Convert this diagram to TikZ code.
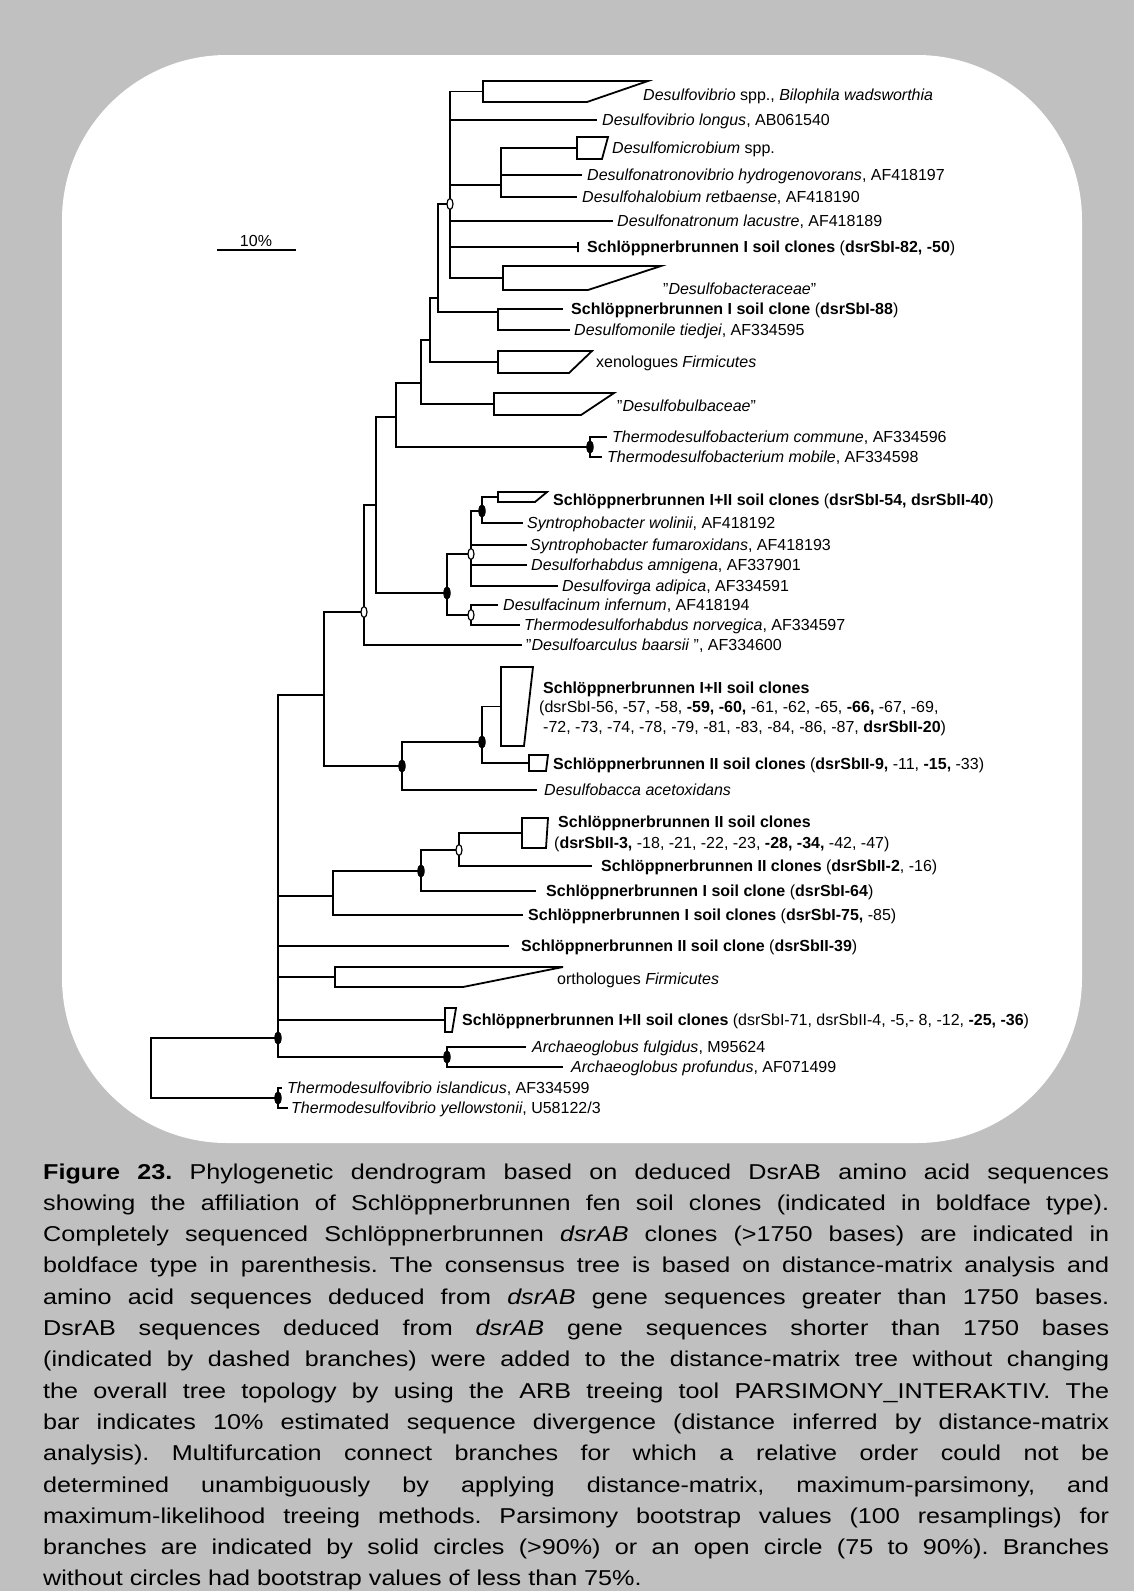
\documentclass[tikz,border=0pt]{standalone}
\usepackage{fontspec}
\setmainfont{Liberation Sans}
\newfontfamily\capfont{Liberation Sans}[FakeStretch=1.17]
\usetikzlibrary{shapes.geometric}
\definecolor{pagegray}{HTML}{C0C0C0}

% leaf: name, tip x, y, label x, label text
\newcommand\tipleaf[5]{%
  \coordinate (#1) at (#2,#3);
  \node[lab] (#1-l) at (#4,#3) {#5};}
% collapsed clade drawn as a trapezoid: name, x, top y, bottom y, top right x, bottom right x
\newcommand\cladebox[6]{%
  \draw[box] (#2,#3) -- (#5,#3) -- (#6,#4) -- (#2,#4) -- cycle;
  \coordinate (#1) at (#2,{(#3+#4)/2});}

\begin{document}
\begin{tikzpicture}[x=1pt,y=-1pt,
  br/.style={line width=1.8pt},
  box/.style={line width=1.8pt, line join=miter},
  lab/.style={anchor=west, inner sep=0pt, text height=11.5pt, text depth=0pt,
              font=\fontsize{16}{19}\selectfont},
  bsfull/.style={ellipse, draw=black, fill=black, line width=0.8pt, inner sep=0pt,
                 minimum width=6.5pt, minimum height=12.5pt},
  bsopen/.style={ellipse, draw=black, fill=white, line width=1.2pt, inner sep=0pt,
                 minimum width=6pt, minimum height=11pt}]

% page and rounded panel
\fill[pagegray] (0,0) rectangle (1134,1591);
\fill[white, rounded corners=165pt] (62,55) rectangle (1082,1143);
\useasboundingbox (0,0) rectangle (1134,1591);

% scale bar
\coordinate (sbL) at (217,250);
\coordinate (sbR) at (296,250);
\draw[line width=1.5pt] (sbL) -- (sbR);
\node[lab, anchor=center] (sbT) at (256,241) {10\%};

% internal nodes
\coordinate (nR) at (151,1067);
\coordinate (nM) at (278,1038);
\coordinate (nTv) at (278,1098);
\coordinate (nArc) at (447,1057);
\coordinate (nN) at (333,896);
\coordinate (nN1) at (421,871);
\coordinate (nN2) at (459,850);
\coordinate (nA) at (324,695);
\coordinate (nG) at (402,766);
\coordinate (nG1) at (482,742);
\coordinate (nB) at (364,612);
\coordinate (nC) at (376,505);
\coordinate (nE) at (396,417);
\coordinate (nTb) at (590,447);
\coordinate (nF) at (421,383);
\coordinate (nH) at (430,340);
\coordinate (nK) at (438,298);
\coordinate (nDM) at (498,312);
\coordinate (nT) at (450,204);
\coordinate (nDm) at (501,185);
\coordinate (nS) at (447,593);
\coordinate (nS1) at (471,554);
\coordinate (nS2) at (482,511);
\coordinate (nS3) at (471,615);

% collapsed clades
\cladebox{kDv}{483}{81}{102}{648}{587}
\cladebox{kDmic}{577}{137}{159}{608}{602}
\cladebox{k82}{578}{242}{252}{578}{578}
\cladebox{kBact}{503}{266}{290}{661}{588}
\cladebox{kXeno}{498}{351}{373}{592}{569}
\cladebox{kBulb}{494}{393}{415}{614}{581}
\cladebox{k54}{498}{492}{502}{547}{535}
\cladebox{kBig}{501}{667}{746}{533}{524}
\cladebox{kII9}{529}{755}{771}{548}{546}
\cladebox{kII3}{522}{818}{848}{548}{546}
\cladebox{kOrtho}{335}{967}{987}{563}{463}
\cladebox{k71}{445}{1008}{1032}{456}{452}

% clade labels
\node[lab] (kDv-l) at (643,95) {\textit{Desulfovibrio} spp., \textit{Bilophila wadsworthia}};
\node[lab] (kDmic-l) at (612,148) {\textit{Desulfomicrobium} spp.};
\node[lab] (k82-l) at (587,247) {\textbf{Schlöppnerbrunnen I soil clones} (\textbf{dsrSbI-82, -50})};
\node[lab] (kBact-l) at (663,289) {"\textit{Desulfobacteraceae}"};
\node[lab] (kXeno-l) at (596,362) {xenologues \textit{Firmicutes}};
\node[lab] (kBulb-l) at (617,406) {"\textit{Desulfobulbaceae}"};
\node[lab] (k54-l) at (553,500) {\textbf{Schlöppnerbrunnen I+II soil clones} (\textbf{dsrSbI-54, dsrSbII-40})};
\node[lab] (kBig-l1) at (543,688) {\textbf{Schlöppnerbrunnen I+II soil clones}};
\node[lab] (kBig-l2) at (539,707) {(dsrSbI-56, -57, -58, \textbf{-59, -60,} -61, -62, -65, \textbf{-66,} -67, -69,};
\node[lab] (kBig-l3) at (543,727) {-72, -73, -74, -78, -79, -81, -83, -84, -86, -87, \textbf{dsrSbII-20})};
\node[lab] (kII9-l) at (553,764) {\textbf{Schlöppnerbrunnen II soil clones} (\textbf{dsrSbII-9,} -11, \textbf{-15,} -33)};
\node[lab] (kII3-l1) at (558,822) {\textbf{Schlöppnerbrunnen II soil clones}};
\node[lab] (kII3-l2) at (554,843) {(\textbf{dsrSbII-3,} -18, -21, -22, -23, \textbf{-28, -34,} -42, -47)};
\node[lab] (kOrtho-l) at (557,979) {orthologues \textit{Firmicutes}};
\node[lab] (k71-l) at (462,1020) {\textbf{Schlöppnerbrunnen I+II soil clones} (dsrSbI-71, dsrSbII-4, -5,- 8, -12, \textbf{-25, -36})};

% single sequences
\tipleaf{tLon}{597}{120}{602}{\textit{Desulfovibrio longus}, AB061540}
\tipleaf{tNatro}{582}{175}{587}{\textit{Desulfonatronovibrio hydrogenovorans}, AF418197}
\tipleaf{tHalo}{577}{197}{582}{\textit{Desulfohalobium retbaense}, AF418190}
\tipleaf{tLac}{613}{221}{617}{\textit{Desulfonatronum lacustre}, AF418189}
\tipleaf{t88}{563}{309}{571}{\textbf{Schlöppnerbrunnen I soil clone} (\textbf{dsrSbI-88})}
\tipleaf{tMon}{570}{330}{574}{\textit{Desulfomonile tiedjei}, AF334595}
\tipleaf{tCom}{607}{437}{612}{\textit{Thermodesulfobacterium commune}, AF334596}
\tipleaf{tMob}{602}{457}{607}{\textit{Thermodesulfobacterium mobile}, AF334598}
\tipleaf{tWol}{523}{523}{527}{\textit{Syntrophobacter wolinii}, AF418192}
\tipleaf{tFum}{527}{545}{530}{\textit{Syntrophobacter fumaroxidans}, AF418193}
\tipleaf{tAmn}{527}{565}{531}{\textit{Desulforhabdus amnigena}, AF337901}
\tipleaf{tAdi}{558}{586}{562}{\textit{Desulfovirga adipica}, AF334591}
\tipleaf{tInf}{498}{605}{503}{\textit{Desulfacinum infernum}, AF418194}
\tipleaf{tNor}{520}{625}{524}{\textit{Thermodesulforhabdus norvegica}, AF334597}
\tipleaf{tBaar}{522}{645}{526}{"\textit{Desulfoarculus baarsii} ", AF334600}
\tipleaf{tBacca}{537}{790}{544}{\textit{Desulfobacca acetoxidans}}
\tipleaf{tII2}{592}{866}{601}{\textbf{Schlöppnerbrunnen II clones} (\textbf{dsrSbII-2}, -16)}
\tipleaf{t64}{536}{891}{546}{\textbf{Schlöppnerbrunnen I soil clone} (\textbf{dsrSbI-64})}
\tipleaf{t75}{523}{915}{528}{\textbf{Schlöppnerbrunnen I soil clones} (\textbf{dsrSbI-75,} -85)}
\tipleaf{t39}{509}{946}{521}{\textbf{Schlöppnerbrunnen II soil clone} (\textbf{dsrSbII-39})}
\tipleaf{tFul}{526}{1047}{532}{\textit{Archaeoglobus fulgidus}, M95624}
\tipleaf{tPro}{563}{1067}{571}{\textit{Archaeoglobus profundus}, AF071499}
\tipleaf{tIsl}{282}{1088}{287}{\textit{Thermodesulfovibrio islandicus}, AF334599}
\tipleaf{tYel}{288}{1108}{291}{\textit{Thermodesulfovibrio yellowstonii}, U58122/3}

% branches
\draw[br] (nR) |- (nM);   \draw[br] (nR) |- (nTv);
\draw[br] (nTv) |- (tIsl); \draw[br] (nTv) |- (tYel);
\draw[br] (nM) |- (nA);   \draw[br] (nM) |- (nN);   \draw[br] (nM) |- (t39);
\draw[br] (nM) |- (kOrtho); \draw[br] (nM) |- (k71); \draw[br] (nM) |- (nArc);
\draw[br] (nArc) |- (tFul); \draw[br] (nArc) |- (tPro);
\draw[br] (nN) |- (nN1);  \draw[br] (nN) |- (t75);
\draw[br] (nN1) |- (nN2); \draw[br] (nN1) |- (t64);
\draw[br] (nN2) |- (kII3); \draw[br] (nN2) |- (tII2);
\draw[br] (nA) |- (nB);   \draw[br] (nA) |- (nG);
\draw[br] (nG) |- (nG1);  \draw[br] (nG) |- (tBacca);
\draw[br] (nG1) |- (kBig); \draw[br] (nG1) |- (kII9);
\draw[br] (nB) |- (nC);   \draw[br] (nB) |- (tBaar);
\draw[br] (nC) |- (nE);   \draw[br] (nC) |- (nS);
\draw[br] (nE) |- (nF);   \draw[br] (nE) |- (nTb);
\draw[br] (nTb) |- (tCom); \draw[br] (nTb) |- (tMob);
\draw[br] (nF) |- (nH);   \draw[br] (nF) |- (kBulb);
\draw[br] (nH) |- (nK);   \draw[br] (nH) |- (kXeno);
\draw[br] (nK) |- (nT);   \draw[br] (nK) |- (nDM);
\draw[br] (nDM) |- (t88); \draw[br] (nDM) |- (tMon);
\draw[br] (nT) |- (kDv);  \draw[br] (nT) |- (tLon);  \draw[br] (nT) |- (nDm);
\draw[br] (nT) |- (tLac); \draw[br] (nT) |- (k82);   \draw[br] (nT) |- (kBact);
\draw[br] (nDm) |- (kDmic); \draw[br] (nDm) |- (tNatro); \draw[br] (nDm) |- (tHalo);
\draw[br] (nS) |- (nS1);  \draw[br] (nS) |- (nS3);
\draw[br] (nS1) |- (nS2); \draw[br] (nS1) |- (tFum); \draw[br] (nS1) |- (tAmn); \draw[br] (nS1) |- (tAdi);
\draw[br] (nS2) |- (k54); \draw[br] (nS2) |- (tWol);
\draw[br] (nS3) |- (tInf); \draw[br] (nS3) |- (tNor);

% bootstrap support marks
\node[bsopen] (cT) at (nT) {};
\node[bsfull] (cTb) at (nTb) {};
\node[bsfull] (cS2) at (nS2) {};
\node[bsopen] (cS1) at (nS1) {};
\node[bsfull] (cS) at (nS) {};
\node[bsopen] (cS3) at (nS3) {};
\node[bsopen] (cB) at (nB) {};
\node[bsfull] (cG1) at (nG1) {};
\node[bsfull] (cG) at (nG) {};
\node[bsopen] (cN2) at (nN2) {};
\node[bsfull] (cN1) at (nN1) {};
\node[bsfull] (cM) at (nM) {};
\node[bsfull] (cArc) at (nArc) {};
\node[bsfull] (cTv) at (nTv) {};

% caption
\node[anchor=base west, inner sep=0pt, text width=1066pt, align=justify,
      font=\capfont\fontsize{21.5}{31.3}\selectfont] (caption) at (43,1179)
{\frenchspacing\tolerance=9999\pretolerance=-1\hyphenpenalty=10000
\textbf{Figure 23.} Phylogenetic dendrogram based on deduced DsrAB amino acid sequences\linebreak
showing the affiliation of Schlöppnerbrunnen fen soil clones (indicated in boldface type).\linebreak
Completely sequenced Schlöppnerbrunnen \textit{dsrAB} clones (>1750 bases) are indicated in\linebreak
boldface type in parenthesis. The consensus tree is based on distance-matrix analysis and\linebreak
amino acid sequences deduced from \textit{dsrAB} gene sequences greater than 1750 bases.\linebreak
DsrAB sequences deduced from \textit{dsrAB} gene sequences shorter than 1750 bases\linebreak
(indicated by dashed branches) were added to the distance-matrix tree without changing\linebreak
the overall tree topology by using the ARB treeing tool PARSIMONY\_INTERAKTIV. The\linebreak
bar indicates 10\% estimated sequence divergence (distance inferred by distance-matrix\linebreak
analysis). Multifurcation connect branches for which a relative order could not be\linebreak
determined unambiguously by applying distance-matrix, maximum-parsimony, and\linebreak
maximum-likelihood treeing methods. Parsimony bootstrap values (100 resamplings) for\linebreak
branches are indicated by solid circles (>90\%) or an open circle (75 to 90\%). Branches\linebreak
without circles had bootstrap values of less than 75\%.\par};
\end{tikzpicture}
\end{document}
